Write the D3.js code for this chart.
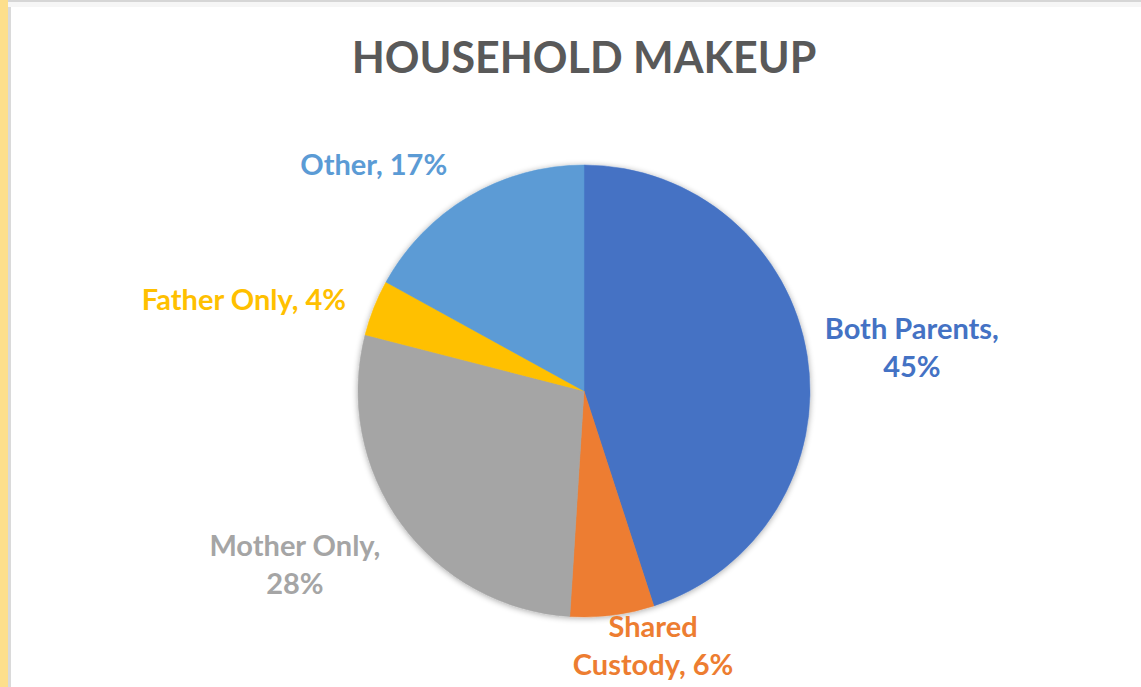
<!DOCTYPE html>
<html>
<head>
<meta charset="utf-8">
<script src="https://cdn.jsdelivr.net/npm/d3@7/dist/d3.min.js"></script>
<style>
  html, body { margin: 0; padding: 0; background: #fff; }
  svg { display: block; }
</style>
</head>
<body>
<svg id="chart" width="1141" height="687"></svg>
<script>
// Household makeup, share of respondents (%)
const categories = ["Both Parents", "Shared Custody", "Mother Only", "Father Only", "Other"];
const values = [45, 6, 28, 4, 17];
const colors = ["#4472C4", "#ED7D31", "#A5A5A5", "#FFC000", "#5B9BD5"];

// Label text split into lines, and nudges from the outer label point
const labelLines = [
  ["Both Parents,", "45%"],
  ["Shared", "Custody, 6%"],
  ["Mother Only,", "28%"],
  ["Father Only, 4%"],
  ["Other, 17%"]
];
const labelNudge = [[75, -12], [37, -8], [-82, 15], [-102, 13], [-80, 4]];

const W = 1141, H = 687;
const svg = d3.select("#chart");

// Page frame: yellow strip on the left and thin grey borders
svg.append("rect").attr("x", 0).attr("y", 0).attr("width", W).attr("height", H).attr("fill", "#fff");
svg.append("rect").attr("x", 0).attr("y", 0).attr("width", 8).attr("height", H).attr("fill", "#FDDF8C");
svg.append("rect").attr("x", 8).attr("y", 0).attr("width", 3).attr("height", H).attr("fill", "#DADADA");
svg.append("rect").attr("x", 8).attr("y", 0).attr("width", W - 8).attr("height", 2).attr("fill", "#D6D6D6");
svg.append("rect").attr("x", 8).attr("y", 2).attr("width", W - 8).attr("height", 5).attr("fill", "#F6F6F6");

// Title
svg.append("text")
  .attr("x", 584).attr("y", 73)
  .attr("text-anchor", "middle")
  .attr("font-family", "Lato, 'Open Sans', sans-serif")
  .attr("font-weight", 700)
  .attr("font-size", 43)
  .attr("fill", "#595959")
  .text("HOUSEHOLD MAKEUP");

// Soft shadow behind the pie
const defs = svg.append("defs");
const f = defs.append("filter").attr("id", "pieShadow")
  .attr("x", "-20%").attr("y", "-20%").attr("width", "140%").attr("height", "140%");
f.append("feGaussianBlur").attr("in", "SourceAlpha").attr("stdDeviation", 3).attr("result", "b");
f.append("feOffset").attr("in", "b").attr("dx", 0).attr("dy", 1).attr("result", "o");
f.append("feComponentTransfer").attr("in", "o").attr("result", "s")
  .append("feFuncA").attr("type", "linear").attr("slope", 0.35);
const m = f.append("feMerge");
m.append("feMergeNode").attr("in", "s");
m.append("feMergeNode").attr("in", "SourceGraphic");

const cx = 584, cy = 391, r = 226;
const pie = d3.pie().sort(null).value(d => d)(values);
const arc = d3.arc().innerRadius(0).outerRadius(r);
const labelArc = d3.arc().innerRadius(r + 30).outerRadius(r + 30);

const g = svg.append("g").attr("transform", `translate(${cx},${cy})`);
g.append("g").attr("filter", "url(#pieShadow)")
  .selectAll("path")
  .data(pie)
  .join("path")
  .attr("d", arc)
  .attr("fill", (d, i) => colors[i])
  .attr("stroke", (d, i) => colors[i])
  .attr("stroke-width", 0.5);

// Outside data labels in slice colours
const labels = g.selectAll("text.lbl")
  .data(pie)
  .join("text")
  .attr("class", "lbl")
  .attr("text-anchor", "middle")
  .attr("font-family", "Lato, 'Open Sans', sans-serif")
  .attr("font-weight", 700)
  .attr("font-size", 29)
  .attr("fill", (d, i) => colors[i])
  .attr("transform", (d, i) => {
    const [x, y] = labelArc.centroid(d);
    return `translate(${x + labelNudge[i][0]},${y + labelNudge[i][1]})`;
  });

labels.each(function(d, i) {
  const t = d3.select(this);
  labelLines[i].forEach((line, k) => {
    t.append("tspan").attr("x", 0).attr("dy", k === 0 ? 0 : 38).text(line);
  });
});
</script>
</body>
</html>
